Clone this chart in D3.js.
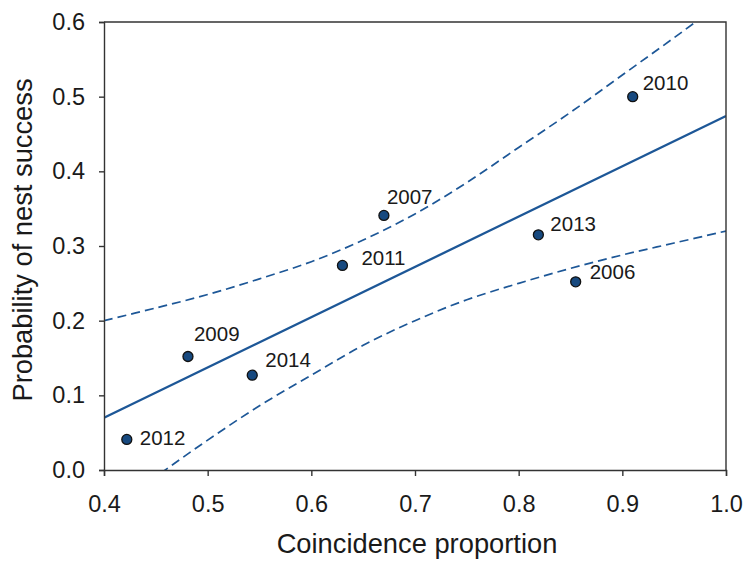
<!DOCTYPE html>
<html>
<head>
<meta charset="utf-8">
<script src="https://cdn.jsdelivr.net/npm/d3@7"></script>
<style>
  body { margin: 0; background: #fff; }
  text { font-family: Arial, "Liberation Sans", sans-serif; fill: #1a1a1a; }
</style>
</head>
<body>
<script>
var margin = {top: 22, right: 18, bottom: 91, left: 104};
var width = 744 - margin.left - margin.right;
var height = 561 - margin.top - margin.bottom;

// observed years
var years = ["2012", "2009", "2014", "2011", "2007", "2013", "2006", "2010"];
var coincidence = [0.422, 0.481, 0.543, 0.630, 0.670, 0.819, 0.855, 0.910];
var nestSuccess = [0.041, 0.152, 0.127, 0.274, 0.341, 0.315, 0.252, 0.500];
// label offsets (px) so the years sit where they do in the figure
var labelDx = [13, 6, 13, 19, 3, 12, 14, 10];
var labelDy = [6, -16, -8, 0, -11, -4, -3, -7];

// fitted line and confidence band
var fitX = [0.4, 1.0];
var fitY = [0.070, 0.474];
var bandX = [0.40, 0.45, 0.50, 0.55, 0.60, 0.65, 0.70, 0.75, 0.80, 0.85, 0.90, 0.95, 1.00];
var bandUpper = [0.200, 0.217, 0.235, 0.256, 0.279, 0.308, 0.343, 0.385, 0.432, 0.479, 0.529, 0.579, 0.630];
var bandLower = [-0.060, -0.009, 0.040, 0.086, 0.127, 0.167, 0.200, 0.228, 0.250, 0.270, 0.288, 0.304, 0.320];

var xTicks = [0.4, 0.5, 0.6, 0.7, 0.8, 0.9, 1.0];
var yTicks = [0.0, 0.1, 0.2, 0.3, 0.4, 0.5, 0.6];

var blue = "#1d5797";

var svg = d3.select("body").append("svg")
  .attr("width", 744)
  .attr("height", 561);

var g = svg.append("g")
  .attr("transform", "translate(" + margin.left + "," + margin.top + ")");

var x = d3.scaleLinear().domain([0.4, 1.0]).range([0, width]);
var y = d3.scaleLinear().domain([0, 0.6]).range([height, 0]);

g.append("clipPath").attr("id", "clip")
  .append("rect").attr("width", width).attr("height", height);

var plot = g.append("g").attr("clip-path", "url(#clip)");

var line = d3.line()
  .x(function(d) { return x(d[0]); })
  .y(function(d) { return y(d[1]); })
  .curve(d3.curveCatmullRom.alpha(0.5));

// confidence band
[bandUpper, bandLower].forEach(function(b) {
  plot.append("path")
    .attr("d", line(bandX.map(function(v, i) { return [v, b[i]]; })))
    .attr("fill", "none")
    .attr("stroke", blue)
    .attr("stroke-width", 1.7)
    .attr("stroke-dasharray", "9,5");
});

// regression line
plot.append("path")
  .attr("d", line(fitX.map(function(v, i) { return [v, fitY[i]]; })))
  .attr("fill", "none")
  .attr("stroke", blue)
  .attr("stroke-width", 2.3);

// frame
g.append("path")
  .attr("d", "M0,0H" + width + "V" + height)
  .attr("fill", "none")
  .attr("stroke", "#333")
  .attr("stroke-width", 1.4);

var xAxis = g.append("g")
  .attr("transform", "translate(0," + height + ")")
  .call(d3.axisBottom(x).tickValues(xTicks).tickFormat(d3.format(".1f")).tickSize(6).tickPadding(19));
var yAxis = g.append("g")
  .call(d3.axisLeft(y).tickValues(yTicks).tickFormat(d3.format(".1f")).tickSize(5).tickPadding(14));

[xAxis, yAxis].forEach(function(a) {
  a.select(".domain").attr("stroke", "#333").attr("stroke-width", 1.4);
  a.selectAll(".tick line").attr("stroke", "#333").attr("stroke-width", 1.4);
  a.selectAll(".tick text")
    .attr("font-family", "Arial, 'Liberation Sans', sans-serif")
    .attr("font-size", 23.5)
    .attr("fill", "#1a1a1a");
});

// points
var pts = g.selectAll(".pt")
  .data(years)
  .enter().append("g")
  .attr("class", "pt")
  .attr("transform", function(d, i) {
    return "translate(" + x(coincidence[i]) + "," + y(nestSuccess[i]) + ")";
  });

pts.append("circle")
  .attr("r", 5)
  .attr("fill", "#17497f")
  .attr("stroke", "#111")
  .attr("stroke-width", 1.3);

pts.append("text")
  .attr("x", function(d, i) { return labelDx[i]; })
  .attr("y", function(d, i) { return labelDy[i]; })
  .attr("font-size", 20.5)
  .text(function(d) { return d; });

// axis titles
svg.append("text")
  .attr("x", 417)
  .attr("y", 553)
  .attr("text-anchor", "middle")
  .attr("font-size", 27.3)
  .text("Coincidence proportion");

svg.append("text")
  .attr("transform", "translate(32,240) rotate(-90)")
  .attr("text-anchor", "middle")
  .attr("font-size", 27.3)
  .text("Probability of nest success");
</script>
</body>
</html>
